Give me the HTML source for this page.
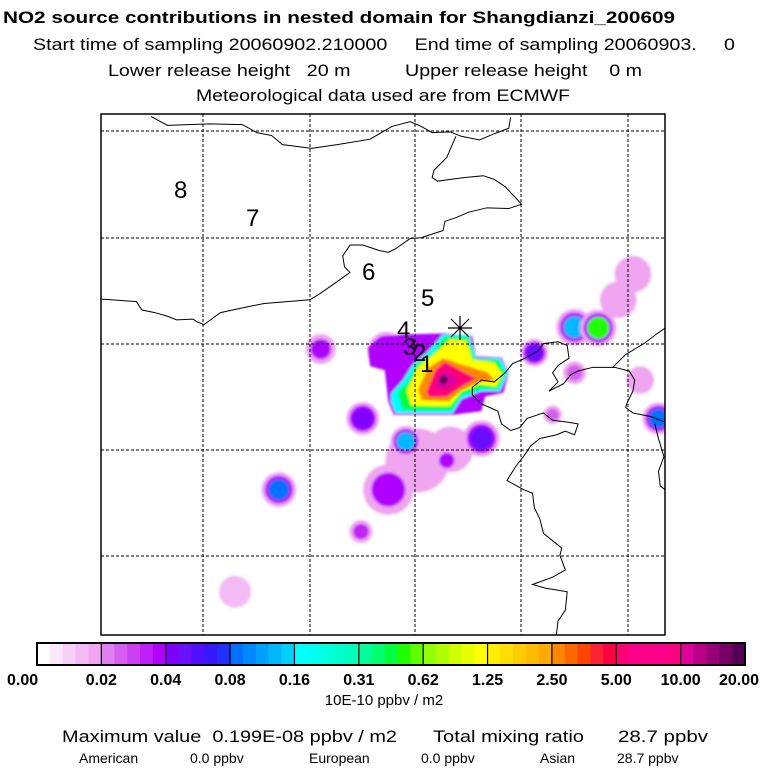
<!DOCTYPE html>
<html><head><meta charset="utf-8"><style>
html,body{margin:0;padding:0;background:#fff;}
svg{display:block;font-family:"Liberation Sans",sans-serif;}
</style></head><body>
<svg id="root" width="768" height="768" viewBox="0 0 768 768">
<text x="3" y="23" font-size="17" font-weight="bold" textLength="672" lengthAdjust="spacingAndGlyphs">NO2 source contributions in nested domain for Shangdianzi_200609</text>
<text x="33" y="50" font-size="17" textLength="702" lengthAdjust="spacingAndGlyphs" xml:space="preserve">Start time of sampling 20060902.210000     End time of sampling 20060903.     0</text>
<text x="108" y="76" font-size="17" textLength="534" lengthAdjust="spacingAndGlyphs" xml:space="preserve">Lower release height   20 m          Upper release height    0 m</text>
<text x="196" y="101" font-size="17" textLength="374" lengthAdjust="spacingAndGlyphs">Meteorological data used are from ECMWF</text>

<defs><clipPath id="mapclip"><rect x="101" y="114" width="564" height="521"/></clipPath>
<filter id="soft" x="-50%" y="-50%" width="200%" height="200%"><feGaussianBlur stdDeviation="4"/></filter>
<filter id="soft2" x="-20%" y="-20%" width="140%" height="140%"><feGaussianBlur stdDeviation="3"/></filter></defs>
<g id="map" clip-path="url(#mapclip)">
  <g id="fields" transform="translate(100,110) scale(0.365)"></g>
  <g id="grid" stroke="#000" stroke-width="1" stroke-dasharray="3,2"></g>
  <g transform="translate(100,110) scale(0.365)" fill="none" stroke="#000" stroke-width="1">
    <polyline vector-effect="non-scaling-stroke" points="140,18 185,42 300,38 390,40 430,62 470,70 500,95 580,105 650,95 740,80 800,45 850,32 880,45 910,62 960,60 990,72 1040,82 1080,65 1120,50 1125,20"/>
    <polyline vector-effect="non-scaling-stroke" points="975,72 950,130 915,165 910,185 925,195 960,190 1000,185 1050,180 1080,190 1110,210 1155,258 1120,270 1060,268 1010,280 975,295 945,305 940,330 880,350 850,352 810,380 790,390 765,385 720,370 685,370 665,400 670,430 685,445 650,470 600,505 575,520 450,530 400,540 330,555 285,588 265,580 255,573 210,575 185,565 150,555 115,548 100,525 5,518"/>
    <polyline vector-effect="non-scaling-stroke" points="1020,760 1045,740 1080,745 1110,720 1130,695 1165,680 1200,660 1215,640 1255,635 1280,645 1285,680 1255,700 1240,720 1255,745 1230,770 1270,750 1290,725 1310,715 1350,705 1410,705 1450,715 1465,740 1460,770 1445,800 1440,815 1460,830 1510,840 1560,860"/>
    <polyline vector-effect="non-scaling-stroke" points="1020,760 1020,780 1045,805 1090,825 1100,860 1125,878 1150,870 1170,845 1215,830 1240,850 1280,855 1310,860 1300,890 1275,880 1250,890 1205,900 1180,920 1160,950 1140,975 1115,1015 1160,1040 1185,1050 1190,1090 1205,1120 1215,1160 1240,1180 1265,1200 1260,1220 1275,1260 1240,1280 1185,1300 1220,1310 1280,1320 1275,1370 1255,1400 1250,1440 1230,1460 1210,1480 1190,1510 1160,1530 1140,1560"/>
    <polyline vector-effect="non-scaling-stroke" points="1405,705 1440,670 1490,640 1530,610 1560,590"/>
    <polyline vector-effect="non-scaling-stroke" points="1520,860 1530,900 1545,950 1530,990 1535,1030 1560,1050"/>
  </g>
  <g font-size="24" fill="#000">
    <text x="174" y="198">8</text>
    <text x="246" y="226">7</text>
    <text x="362" y="280">6</text>
    <text x="421" y="306">5</text>
    <text x="397" y="338">4</text>
    <text x="403" y="355">3</text>
    <text x="413" y="361">2</text>
    <text x="420" y="372">1</text>
  </g>
  <g stroke="#000" stroke-width="1.2">
    <line x1="448" y1="328" x2="472" y2="328"/><line x1="460" y1="316" x2="460" y2="340"/>
    <line x1="451" y1="319" x2="469" y2="337"/><line x1="469" y1="319" x2="451" y2="337"/>
  </g>
</g>
<rect x="101" y="114" width="564" height="521" fill="none" stroke="#000" stroke-width="1.5"/>

<g id="cbar"></g>
<g id="cbticks" font-size="16" font-weight="bold"></g>
<text x="384" y="705" font-size="15" text-anchor="middle">10E-10 ppbv / m2</text>
<g font-size="17">
<text x="62" y="742" textLength="335" lengthAdjust="spacingAndGlyphs" xml:space="preserve">Maximum value  0.199E-08 ppbv / m2</text>
<text x="433" y="742" textLength="151" lengthAdjust="spacingAndGlyphs">Total mixing ratio</text>
<text x="618" y="742" textLength="90" lengthAdjust="spacingAndGlyphs">28.7 ppbv</text>
</g>
<g font-size="14">
<text x="79" y="763">American</text>
<text x="190" y="763">0.0 ppbv</text>
<text x="309" y="763">European</text>
<text x="421" y="763">0.0 ppbv</text>
<text x="540" y="763">Asian</text>
<text x="617" y="763">28.7 ppbv</text>
</g>
</svg>
<script>
// colour scale (5 sub-levels per labelled band)
const levelColors = [
 "#ffffff","#fbe6fb","#f7d0f7","#f3baf3","#efa5ef",
 "#e080f0","#d560f0","#cc40f5","#c020f8","#b000ff",
 "#8000ff","#6a10ff","#5010ff","#3818ff","#2030ff",
 "#0070ff","#0088ff","#00a0ff","#00b8ff","#00d0ff",
 "#00ffff","#00ffee","#00ffdd","#00ffcc","#00ffbb",
 "#00ff99","#00ff70","#00ff40","#20ff00","#60ff00",
 "#90ff00","#b0ff00","#d0ff00","#e8ff00","#ffff00",
 "#ffee00","#ffdd00","#ffcc00","#ffbb00","#ffaa00",
 "#ff8800","#ff6600","#ff4400","#ff2233","#ff0044",
 "#ff0077","#ff0088","#ff0088","#ff0088","#ff0080",
 "#dd0099","#bb0088","#990077","#770066","#550055"];
const tickLabels = ["0.00","0.02","0.04","0.08","0.16","0.31","0.62","1.25","2.50","5.00","10.00","20.00"];
const gridLon = [203,310,415,521,628];
const gridLat = [131,238,344,450,556];
// source blobs (plot-grid coords), peak level (index into colour scale), radius
const blobX =     [1460,1420,370, 870, 960, 605, 785, 720, 838, 1045, 950, 490, 790, 715, 1300,1365,1190,1530,1240,1480,1300];
const blobY =     [ 450, 520,1320, 960, 930, 655, 660, 845, 908,  900, 960,1040,1040,1155, 595, 597, 665, 845, 835, 740, 720];
const blobLevel = [   4,   4,   3,   4,   4,   9,  13,  10,  18,   11,   9,  15,   9,   8,  18,  28,  11,  15,   6,   4,   6];
const blobRadius= [  40,  40,  35,  70,  50,  33,  42,  36,  34,   40,  25,  38,  55,  25,  40,  40,  30,  35,  20,  30,  25];
// main plume: nested contour levels
const plumeLevels = [9, 20, 27, 34, 40, 45, 50, 54];
const plumePolys = [
 "735,650 770,625 830,615 940,612 1020,620 1030,675 1100,678 1120,720 1105,775 1055,785 1045,825 970,835 805,835 790,800 780,712 740,702",
 "798,775 830,740 855,700 900,660 938,616 1012,616 1030,680 1096,680 1118,720 1096,770 1046,770 990,792 966,830 810,830 797,800",
 "815,775 845,745 865,700 915,665 945,622 1008,624 1025,682 1090,686 1110,722 1090,764 1044,762 990,782 962,822 830,822",
 "840,768 870,705 930,655 958,628 1005,632 1020,684 1080,692 1104,725 1085,758 1040,752 990,772 958,812 852,810",
 "872,765 900,705 940,680 1000,700 1060,718 1082,740 1042,745 990,768 955,798 882,795",
 "895,772 920,712 945,690 990,715 1030,735 990,758 950,785 902,786",
 "915,762 930,722 952,712 985,740 950,766",
 "928,745 940,725 955,738 942,752"];

const SVGNS="http://www.w3.org/2000/svg";
function mk(tag,attrs,parent){const e=document.createElementNS(SVGNS,tag);for(const k in attrs)e.setAttribute(k,attrs[k]);parent.appendChild(e);return e;}
function levelColor(l){return levelColors[Math.max(0,Math.min(levelColors.length-1,Math.round(l)))];}

const grid=document.getElementById('grid');
gridLon.forEach(x=>{const l=mk('line',{x1:x,y1:114,x2:x,y2:635},grid);

});
gridLat.forEach(y=>{const l=mk('line',{x1:101,y1:y,x2:665,y2:y},grid);

});

const fields=document.getElementById('fields');
const fg=mk('g',{filter:'url(#soft)'},fields);
blobX.forEach((x,i)=>{
  const L=blobLevel[i], R=blobRadius[i];
  const bg=mk('g',{},fg);
  
  
  mk('circle',{cx:x,cy:blobY[i],r:R*1.25,fill:levelColor(Math.min(4,L))},bg);
  if(L>9) mk('circle',{cx:x,cy:blobY[i],r:R*1.0,fill:levelColor(9)},bg);
  mk('circle',{cx:x,cy:blobY[i],r:R*(L>9?0.75:0.85),fill:levelColor(L)},bg);
});
const pg=mk('g',{filter:'url(#soft2)'},fields);
plumeLevels.forEach((l,i)=>{
  const p=mk('polygon',{points:plumePolys[i],fill:levelColor(l),'stroke-linejoin':'round'},pg);
  
  
});

const cb=document.getElementById('cbar');
const x0=37,x1=745,y0=643,h=22,nb=tickLabels.length-1,bw=(x1-x0)/nb;
levelColors.forEach((c,i)=>{
  const w=bw/5;
  const r=mk('rect',{x:x0+i*w,y:y0,width:w+0.6,height:h,fill:c},cb);
  
  
});
for(let i=1;i<nb;i++){mk('line',{x1:x0+i*bw,y1:y0,x2:x0+i*bw,y2:y0+h,stroke:'#000','stroke-width':1.2},cb);}
mk('rect',{x:x0,y:y0,width:x1-x0,height:h,fill:'none',stroke:'#000','stroke-width':2},cb);
const tk=document.getElementById('cbticks');
tickLabels.forEach((t,i)=>{
  let x=x0+i*bw, anchor='middle';
  if(i===0){x=7;anchor='start';}
  if(i===nb){x=759;anchor='end';}
  const e=mk('text',{x:x,y:685,'text-anchor':anchor},tk);
  e.textContent=t;
  
  
});
</script>
</body></html>
